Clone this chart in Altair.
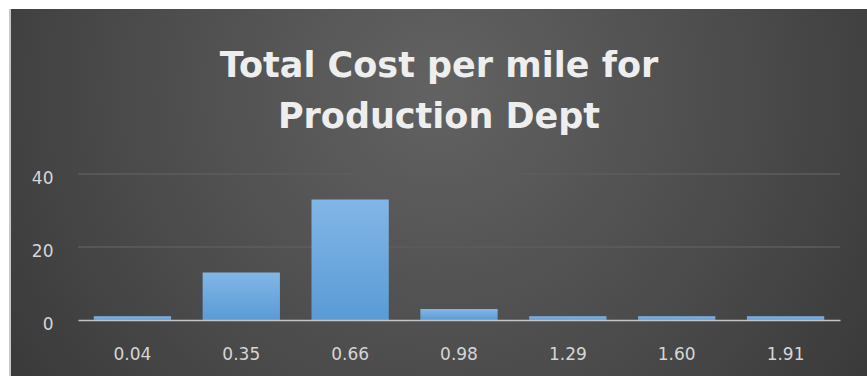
import altair as alt
import pandas as pd

categories = ["0.04", "0.35", "0.66", "0.98", "1.29", "1.60", "1.91"]
counts = [1, 13, 33, 3, 1, 1, 1]
grid_values = [20, 40]
title_lines = ["Total Cost per mile for", "Production Dept"]

df = pd.DataFrame({"bin": categories, "count": counts})
gdf = pd.DataFrame({"count": grid_values})

W, H = 762, 146
PAD_L, PAD_T, PAD_R, PAD_B = 78, 174, 27, 56
yscale = alt.Scale(domain=[0, 40], nice=False)
yaxis = alt.Axis(title=None, values=[0, 20, 40], ticks=False, domain=False,
                 grid=False,
                 labelColor="#d6d6d6", labelFontSize=17,
                 labelFont="DejaVu Sans", labelPadding=25, labelOffset=4,
                 zindex=1)

bg = alt.Chart(alt.Data(values=[{"a": 1}])).mark_rect(
    fill=alt.Gradient(
        gradient="radial",
        x1=0.5, y1=0.38, r1=0.0,
        x2=0.5, y2=0.38, r2=0.75,
        stops=[
            alt.GradientStop(color="#626262", offset=0),
            alt.GradientStop(color="#4a4a4a", offset=0.5),
            alt.GradientStop(color="#2f2f2f", offset=1),
        ],
    ),
).encode(
    x=alt.value(-PAD_L + 11), x2=alt.value(W + PAD_R),
    y=alt.value(-PAD_T + 9), y2=alt.value(H + PAD_B),
)

edge = alt.Chart(alt.Data(values=[{"a": 1}])).mark_rule(
    color="#c8c8c8", strokeWidth=2
).encode(
    x=alt.value(-PAD_L + 10), y=alt.value(-PAD_T + 9), y2=alt.value(H + PAD_B),
)

def title_line(txt, ypos):
    return alt.Chart(alt.Data(values=[{"t": txt}])).mark_text(
        font="DejaVu Sans", fontSize=35, fontWeight="bold", color="#eeeeee",
        align="center", baseline="alphabetic",
    ).encode(text="t:N", x=alt.value(439 - PAD_L), y=alt.value(ypos - PAD_T))

t1 = title_line(title_lines[0], 77)
t2 = title_line(title_lines[1], 128)

grid = alt.Chart(gdf).mark_rule(color="#5c5c5c", strokeWidth=1.5).encode(
    y=alt.Y("count:Q", scale=yscale, axis=yaxis),
    x=alt.value(0), x2=alt.value(W),
)

bars = alt.Chart(df).mark_bar(
    fill=alt.Gradient(
        gradient="linear", x1=0, y1=0, x2=0, y2=1,
        stops=[
            alt.GradientStop(color="#82b6e6", offset=0),
            alt.GradientStop(color="#5a9bd6", offset=1),
        ],
    ),
).encode(
    x=alt.X("bin:N", sort=categories,
            scale=alt.Scale(paddingInner=0.29, paddingOuter=0.145),
            axis=alt.Axis(title=None, labelAngle=0, ticks=False, domain=True,
                          domainColor="#c4c4c4", domainWidth=1.5,
                          labelColor="#d6d6d6", labelFontSize=17,
                          labelFont="DejaVu Sans", labelPadding=26, grid=False,
                          zindex=1)),
    y=alt.Y("count:Q", scale=yscale, axis=yaxis),
)

chart = alt.layer(bg, edge, t1, t2, grid, bars).properties(
    width=W, height=H,
    autosize=alt.AutoSizeParams(type="none"),
    padding={"left": PAD_L, "top": PAD_T, "right": PAD_R, "bottom": PAD_B},
    background="white",
).configure_view(stroke=None)

chart.save("out.html", embed_options={"renderer": "svg", "actions": False})
